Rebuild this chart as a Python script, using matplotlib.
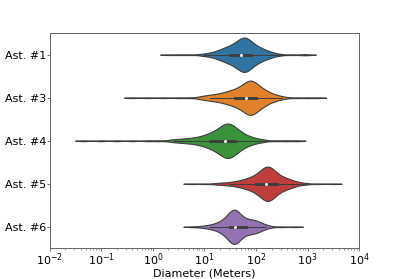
import numpy as np
import pandas as pd
import matplotlib
matplotlib.use("Agg")
import matplotlib.pyplot as plt
import seaborn as sns

# Category labels
asteroids = ["Ast. #1", "Ast. #3", "Ast. #4", "Ast. #5", "Ast. #6"]

# Diameters: log10(metres) values and how many objects sit at each
ast1_log = [0.30, 0.50, 0.70, 0.90, 1.0, 1.1, 1.2, 1.3, 1.4, 1.5, 1.6, 1.7, 1.8, 1.9,
            2.0, 2.1, 2.2, 2.3, 2.4, 2.5, 2.7, 2.9, 3.0]
ast1_cnt = [1, 1, 1, 1, 2, 3, 5, 8, 11, 14, 18, 25, 28, 20,
            14, 10, 7, 4, 2, 1, 1, 1, 1]

ast3_log = [-0.40, -0.10, 0.20, 0.50, 0.70, 0.9, 1.0, 1.1, 1.2, 1.3, 1.4, 1.5, 1.6, 1.7, 1.8,
            1.9, 2.0, 2.1, 2.2, 2.3, 2.4, 2.5, 2.6, 2.8, 3.0, 3.2]
ast3_cnt = [1, 1, 1, 1, 1, 2, 3, 4, 5, 6, 8, 10, 12, 16, 21,
            26, 20, 14, 10, 6, 4, 2, 1, 1, 1, 1]

ast4_log = [-1.35, -1.00, -0.70, -0.40, -0.10, 0.10, 0.30, 0.4, 0.5, 0.6, 0.7, 0.8, 0.9, 1.0, 1.1,
            1.2, 1.3, 1.4, 1.5, 1.6, 1.7, 1.8, 1.9, 2.0, 2.1, 2.2, 2.4, 2.6, 2.8]
ast4_cnt = [1, 1, 1, 1, 1, 1, 1, 2, 2, 3, 3, 4, 5, 7, 9,
            12, 16, 21, 21, 16, 11, 7, 5, 3, 2, 1, 1, 1, 1]

ast5_log = [0.75, 1.00, 1.20, 1.3, 1.4, 1.5, 1.6, 1.7, 1.8, 1.9, 2.0, 2.1, 2.2, 2.3,
            2.4, 2.5, 2.6, 2.7, 2.8, 2.9, 3.0, 3.2, 3.5]
ast5_cnt = [1, 1, 1, 2, 2, 3, 4, 6, 8, 11, 15, 22, 30, 27,
            17, 12, 9, 6, 3, 2, 1, 1, 1]

ast6_log = [0.75, 0.90, 1.0, 1.1, 1.2, 1.3, 1.4, 1.5, 1.6, 1.7, 1.8, 1.9, 2.0, 2.1,
            2.2, 2.3, 2.5, 2.75]
ast6_cnt = [1, 1, 2, 3, 5, 8, 13, 24, 30, 17, 12, 11, 10, 6,
            3, 1, 1, 1]

groups = [(ast1_log, ast1_cnt), (ast3_log, ast3_cnt), (ast4_log, ast4_cnt),
          (ast5_log, ast5_cnt), (ast6_log, ast6_cnt)]

rows = []
for name, (vals, cnts) in zip(asteroids, groups):
    for v, c in zip(vals, cnts):
        rows.extend([(name, 10.0 ** v)] * c)
df = pd.DataFrame(rows, columns=["asteroid", "diameter"])

KDE_BW = 0.08  # kernel width in decades


def fixed_bw(kde):
    return KDE_BW / np.std(kde.dataset, ddof=1)


fig, ax = plt.subplots(figsize=(5.0, 3.5), dpi=79.8)

colors = plt.rcParams["axes.prop_cycle"].by_key()["color"][:5]
sns.violinplot(data=df, x="diameter", y="asteroid", hue="asteroid", order=asteroids,
               hue_order=asteroids, palette=colors,
               log_scale=True, cut=2, inner="box", density_norm="area", bw_method=fixed_bw,
               linewidth=1.0, inner_kws=dict(box_width=2.6, whis_width=0.9, marker="o"),
               legend=False, ax=ax)

ax.set_xlim(1e-2, 1e4)
ax.set_xlabel("Diameter (Meters)", labelpad=0.5)
ax.set_ylabel("")

ax.tick_params(which="major", length=2.3, width=0.8, color="0.4")
ax.tick_params(axis="x", which="major", pad=0.3)
ax.tick_params(axis="y", which="major", pad=1.0)
ax.tick_params(which="minor", length=1.4, width=0.6, color="0.4")
for sp in ax.spines.values():
    sp.set_color("0.4")
    sp.set_linewidth(0.9)

fig.savefig("out.png", dpi=79.8)
